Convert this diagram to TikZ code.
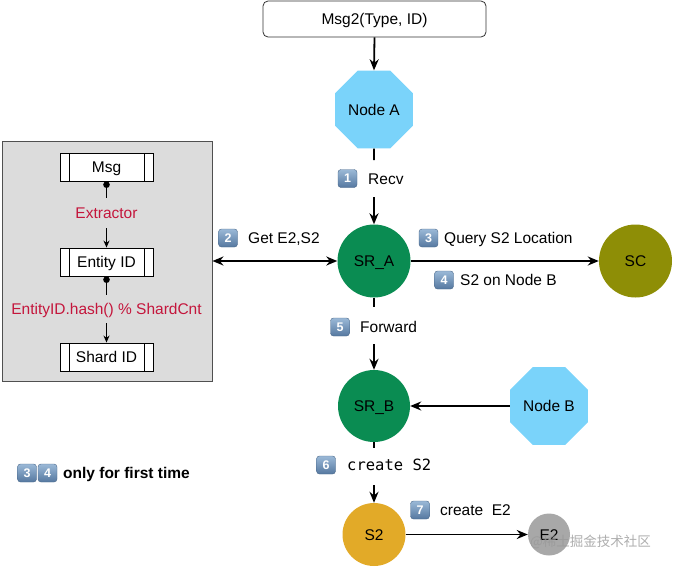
\documentclass[tikz,border=0pt]{standalone}
\usepackage{fontspec}
\setmainfont{Liberation Sans}
\setmonofont{DejaVu Sans Mono}
\newfontfamily\cjkfont{Noto Sans CJK SC}
\usetikzlibrary{arrows.meta,shapes.geometric}
\definecolor{nodeblue}{RGB}{122,211,250}
\definecolor{srgreen}{RGB}{10,140,82}
\definecolor{scolive}{RGB}{142,142,6}
\definecolor{sgold}{RGB}{226,170,40}
\definecolor{egray}{RGB}{168,168,168}
\definecolor{redtxt}{RGB}{196,22,60}
\definecolor{panelfill}{RGB}{220,220,220}
\definecolor{panelborder}{RGB}{80,80,80}
\definecolor{badgetop}{RGB}{155,185,215}
\definecolor{badgebot}{RGB}{85,120,160}
\tikzset{
  txt/.style={font=\fontsize{15.5}{18}\selectfont, text height=11pt, text depth=0pt, inner sep=0pt},
  lbl/.style={txt, anchor=west},
  octa/.style={txt, regular polygon, regular polygon sides=8, minimum size=84.4pt, fill=nodeblue},
  roundnode/.style={txt, circle, inner sep=0pt},
  procbox/.style={txt, draw=black, line width=0.9pt, fill=white, minimum width=93pt, minimum height=28pt,
    path picture={\draw[line width=0.9pt] ([xshift=9pt]path picture bounding box.north west) -- ([xshift=9pt]path picture bounding box.south west);
                  \draw[line width=0.9pt] ([xshift=-9pt]path picture bounding box.north east) -- ([xshift=-9pt]path picture bounding box.south east);}},
  badge/.style={minimum width=19pt, minimum height=18pt, inner sep=0pt, rounded corners=3pt,
    top color=badgetop, bottom color=badgebot, draw=badgebot!85!black, line width=0.4pt,
    text=white, font=\fontsize{12.5}{12.5}\selectfont\bfseries},
  conn/.style={line width=1.8pt, -{Stealth[length=11pt,width=9pt]}},
  seg/.style={line width=1.8pt},
  inconn/.style={line width=1.2pt, -{Stealth[length=7pt,width=6pt]}},
  inseg/.style={line width=1.2pt, {Circle[length=6.5pt]}-},
  redlbl/.style={txt, text=redtxt, minimum height=30pt},
}
\begin{document}
\begin{tikzpicture}[x=1pt,y=-1pt]
\useasboundingbox (0,0) rectangle (673,566);

% left panel
\node[draw=panelborder, fill=panelfill, line width=0.9pt, minimum width=210pt, minimum height=240pt, inner sep=0pt] (panel) at (107,261) {};
\node[procbox] (msg) at (106.5,167) {Msg};
\node[procbox] (eid) at (106.5,262) {Entity ID};
\node[procbox] (sid) at (106.5,357) {Shard ID};
\node[redlbl] (ext) at (106.5,213) {Extractor};
\node[redlbl, minimum height=28pt] (hash) at (106.5,309) {EntityID.hash() \% ShardCnt};
\draw[inseg] (msg.south) -- (ext.north);
\draw[inconn] (ext.south) -- (eid.north);
\draw[inseg] (eid.south) -- (hash.north);
\draw[inconn] (hash.south) -- (sid.north);

% main flow nodes
\node[txt, draw=black!80, line width=0.8pt, rounded corners=5pt, fill=white, minimum width=223pt, minimum height=36pt] (msg2) at (374.5,19) {Msg2(Type, ID)};
\node[octa] (nodea) at (374,109.5) {Node A};
\node[roundnode, fill=srgreen, minimum size=73pt] (sra) at (374,261) {SR\_A};
\node[roundnode, fill=scolive, minimum size=73pt] (sc) at (635.5,261) {SC};
\node[roundnode, fill=srgreen, minimum size=72pt] (srb) at (374,406) {SR\_B};
\node[octa] (nodeb) at (549,406) {Node B};
\node[roundnode, fill=sgold, minimum size=63pt] (s2) at (374,534.5) {S2};
\node[roundnode, fill=egray, minimum size=42pt] (e2) at (549,534.5) {E2};

% gap coordinates for labelled vertical connectors
\coordinate (g1a) at (374,160);
\coordinate (g1b) at (374,197);
\coordinate (g5a) at (374,307);
\coordinate (g5b) at (374,344);
\coordinate (g6a) at (374,448);
\coordinate (g6b) at (374,485);

% connectors
\draw[conn] (msg2.south) -- (nodea.north);
\draw[seg] (nodea.south) -- (g1a);
\draw[conn] (g1b) -- (sra.north);
\draw[line width=1.8pt, {Stealth[length=11pt,width=9pt]}-{Stealth[length=11pt,width=9pt]}] (panel.east |- sra.west) -- (sra.west);
\draw[conn] (sra.east) -- (sc.west);
\draw[seg] (sra.south) -- (g5a);
\draw[conn] (g5b) -- (srb.north);
\draw[conn] (nodeb.west) -- (srb.east);
\draw[seg] (srb.south) -- (g6a);
\draw[conn] (g6b) -- (s2.north);
\draw[conn] (s2.east) -- (e2.west);

% badges and labels
\node[badge] (b1) at (347.5,178.5) {1};
\node[lbl] (t1) at (368,178.5) {Recv};
\node[badge] (b2) at (228,238) {2};
\node[lbl] (t2) at (248,238) {Get E2,S2};
\node[badge] (b3) at (428.5,238) {3};
\node[lbl] (t3) at (444,238) {Query S2 Location};
\node[badge] (b4) at (444,280) {4};
\node[lbl] (t4) at (460,280) {S2 on Node B};
\node[badge] (b5) at (340,327) {5};
\node[lbl] (t5) at (360,327) {Forward};
\node[badge] (b6) at (326,465) {6};
\node[lbl, font=\fontsize{15.5}{18}\selectfont\ttfamily] (t6) at (347,465) {create S2};
\node[badge] (b7) at (420,510) {7};
\node[lbl] (t7) at (440,510) {create\ \ E2};
\node[badge] (b8) at (27,473) {3};
\node[badge] (b9) at (47.5,473) {4};
\node[lbl, font=\fontsize{15.5}{18}\selectfont\bfseries] (t8) at (63,473) {only for first time};

% watermark
\node[anchor=west, inner sep=0pt, text=black!40, opacity=0.8, font=\fontsize{13.5}{14}\cjkfont] (wm) at (530,542) {@稀土掘金技术社区};
\end{tikzpicture}
\end{document}
